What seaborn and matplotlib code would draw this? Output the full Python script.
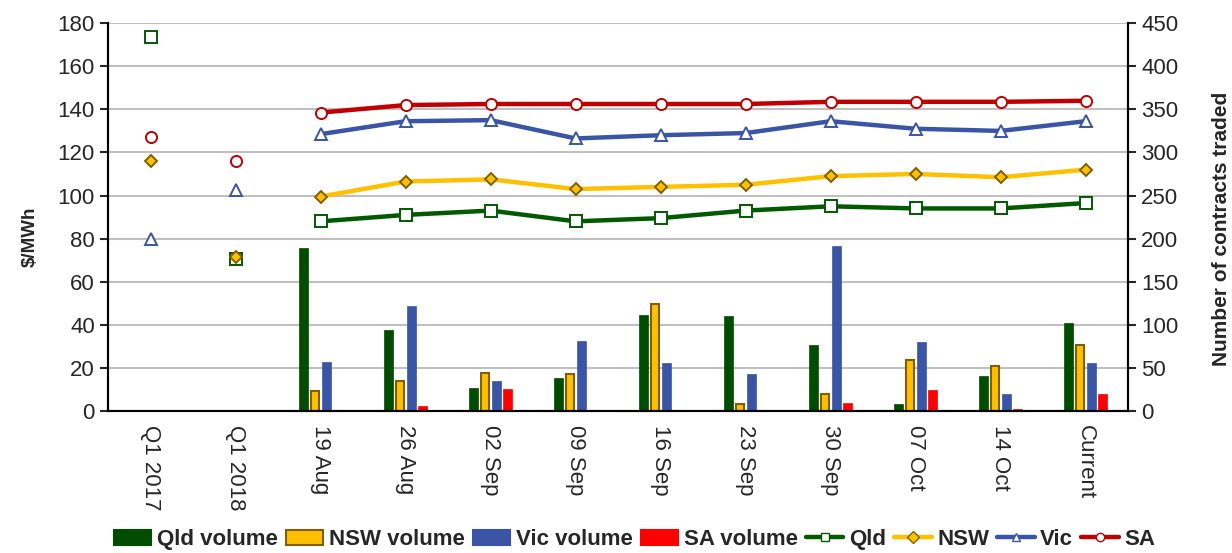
import numpy as np
import pandas as pd
import matplotlib
matplotlib.use("Agg")
import matplotlib.pyplot as plt
import seaborn as sns
from matplotlib.lines import Line2D
from matplotlib.patches import Patch

# DATA
categories = ['Q1 2017', 'Q1 2018', '19 Aug', '26 Aug', '02 Sep', '09 Sep',
              '16 Sep', '23 Sep', '30 Sep', '07 Oct', '14 Oct', 'Current']

# prices ($/MWh) - first two are standalone quarterly points
qld_price = [173.5, 70.5, 88, 91, 93, 88, 89.5, 93, 95, 94, 94, 96.5]
nsw_price = [116, 71.5, 99.5, 106.5, 107.5, 103, 104, 105, 109, 110, 108.5, 112]
vic_price = [80, 102.5, 128.5, 134.5, 135, 126.5, 128, 129, 134.5, 131, 130, 134.5]
sa_price = [127, 116, 138.5, 142, 142.5, 142.5, 142.5, 142.5, 143.5, 143.5, 143.5, 144]

# volumes (number of contracts traded)
qld_vol = [np.nan, np.nan, 189, 94, 26, 38, 111, 110, 77, 7.5, 40, 102.5]
nsw_vol = [np.nan, np.nan, 22.5, 35, 44, 42.5, 124, 7.5, 19.5, 59.5, 52, 76]
vic_vol = [np.nan, np.nan, 57, 122, 35, 81.5, 55, 43, 191, 80, 20, 56]
sa_vol = [np.nan, np.nan, 0, 6, 25.5, 0, 0, 0, 9.3, 24.5, 2, 19.7]

regions = ['Qld', 'NSW', 'Vic', 'SA']
bar_colors = ['#004D00', '#FFC000', '#3A55A6', '#FF0000']
bar_edges = ['#004D00', '#7F6000', '#3A55A6', '#FF0000']
line_colors = ['#005A00', '#FFC000', '#3A55A6', '#C00000']
markers = ['s', 'D', '^', 'o']

vol_df = pd.DataFrame({
    'date': categories * 4,
    'series': sum([[r + ' volume'] * len(categories) for r in regions], []),
    'volume': qld_vol + nsw_vol + vic_vol + sa_vol,
})

prices = [qld_price, nsw_price, vic_price, sa_price]

sns.set_style("white")
plt.rcParams['font.family'] = ['Liberation Sans', 'DejaVu Sans']

fig = plt.figure(figsize=(12.32, 5.53), dpi=100)
ax = fig.add_axes([0.0877, 0.257, 0.828, 0.701])
ax2 = ax.twinx()

# bars on the right axis (drawn underneath)
sns.barplot(data=vol_df, x='date', y='volume', hue='series', order=categories,
            palette=bar_colors, width=0.53, gap=0.22, ax=ax2, legend=False,
            errorbar=None, saturation=1, linewidth=0)
for cont, ec in zip(ax2.containers, bar_edges):
    for p in cont:
        p.set_edgecolor(ec)
        p.set_linewidth(1.5 if ec == '#7F6000' else 0.5)


def marker_style(name, col):
    face = '#FFC000' if name == 'NSW' else 'white'
    edge = '#7F6000' if name == 'NSW' else col
    return face, edge


# lines on the left axis
idx = np.arange(len(categories))
for vals, col, mk, name in zip(prices, line_colors, markers, regions):
    face, edge = marker_style(name, col)
    ms = 6 if name == 'NSW' else 8
    sns.lineplot(x=idx[2:], y=vals[2:], ax=ax, color=col, linewidth=3.2,
                 marker=mk, markersize=ms, markerfacecolor=face,
                 markeredgecolor=edge, markeredgewidth=1.4)
    ax.plot(idx[:2], vals[:2], linestyle='none', marker=mk, markersize=ms,
            markerfacecolor=face, markeredgecolor=edge, markeredgewidth=1.4)

ax.set_zorder(ax2.get_zorder() + 1)
ax.patch.set_visible(False)

ax.set_xlim(-0.5, len(categories) - 0.5)
ax.set_ylim(0, 180)
ax.set_yticks(np.arange(0, 181, 20))
ax2.set_ylim(0, 450)
ax2.set_yticks(np.arange(0, 451, 50))

ax2.grid(axis='y', color='#C0C0C0', linewidth=1.5)
ax2.grid(axis='x', visible=False)
ax.grid(False)
ax2.set_axisbelow(True)

ax.set_xticks(idx)
ax.set_xticklabels(categories, rotation=-90, fontsize=16)
ax.set_xticks(np.arange(-0.5, len(categories)), minor=True)
ax.tick_params(axis='x', which='major', length=0, pad=10)
ax.tick_params(axis='x', which='minor', length=6, width=1.5, direction='out')
ax.tick_params(axis='y', labelsize=16, length=6, width=1.5, direction='out')
ax2.tick_params(axis='y', labelsize=16, length=6, width=1.5, direction='out')
ax2.set_xlabel('')
ax.set_xlabel('')

for a in (ax, ax2):
    a.spines['top'].set_visible(False)
    for s in ('left', 'right', 'bottom'):
        a.spines[s].set_color('black')
        a.spines[s].set_linewidth(1.5)

ax.set_ylabel('$/MWh', fontsize=13.5, fontweight='bold')
ax.yaxis.set_label_coords(-0.068, 0.45)
ax2.set_ylabel('Number of contracts traded', fontsize=15, fontweight='bold')
ax2.yaxis.set_label_coords(1.082, 0.47)

handles = []
for name, col, ec in zip(regions, bar_colors, bar_edges):
    handles.append(Patch(facecolor=col, edgecolor=ec, linewidth=1.5, label=name + ' volume'))
for name, col, mk in zip(regions, line_colors, markers):
    face, edge = marker_style(name, col)
    handles.append(Line2D([0], [0], color=col, linewidth=3.2, marker=mk,
                          markersize=6, markerfacecolor=face,
                          markeredgecolor=edge, label=name))
fig.legend(handles=handles, loc='center', bbox_to_anchor=(0.515, 0.024), ncol=8,
           frameon=False, prop={'weight': 'bold', 'size': 16},
           handlelength=1.7, handletextpad=0.25, columnspacing=0.35)

fig.savefig('out.png', dpi=100)
